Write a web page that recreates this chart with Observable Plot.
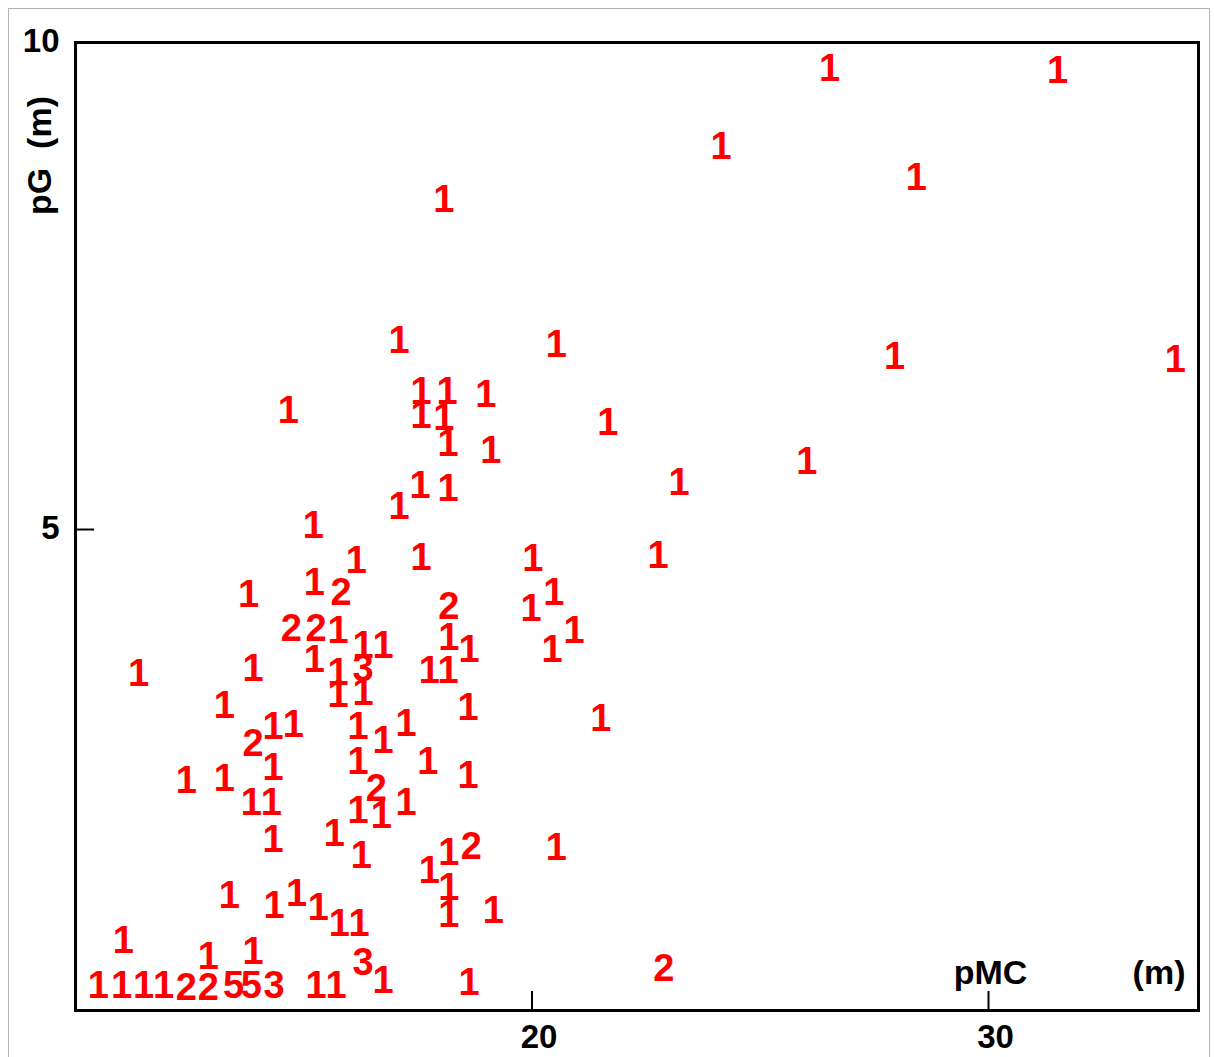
<!DOCTYPE html>
<html>
<head>
<meta charset="utf-8">
<script src="https://cdn.jsdelivr.net/npm/d3@7"></script>
<script src="https://cdn.jsdelivr.net/npm/@observablehq/plot@0.6"></script>
<style>
  html, body { margin: 0; padding: 0; background: #fff; }
  #wrap { position: relative; width: 1214px; height: 1057px; overflow: hidden; }
  #border { position: absolute; left: 8px; top: 8px; width: 1202px; height: 1100px; border: 1px solid #b4b4b4; box-sizing: border-box; }
  #chart { position: absolute; left: 0; top: 0; }
</style>
</head>
<body>
<div id="wrap"><div id="border"></div><div id="chart"></div></div>
<script>
// pMC (m) — x values
const pmc = [
  26.52, 31.51, 24.14, 28.42, 18.07, 17.09, 20.53, 27.94, 34.09,
  17.57, 18.14, 18.99, 17.57, 18.07, 18.16, 19.10, 21.66, 23.22, 26.02, 14.66,
  17.55, 18.16, 17.09, 15.21, 16.15, 17.57, 20.02, 22.76, 15.23, 15.82,
  13.79, 18.18, 20.48, 19.98, 14.73, 15.27, 15.75, 16.30, 16.74, 18.18,
  18.62, 20.92, 20.44, 11.38, 13.89, 15.23, 15.75, 16.30, 17.75, 18.16,
  15.75, 16.30, 13.26, 18.60, 21.51, 13.89, 14.33, 14.77, 16.19, 16.74,
  17.24, 12.43, 13.26, 14.33, 16.19, 17.72, 18.60, 13.85, 14.29, 16.59,
  16.19, 16.70, 17.24, 14.33, 15.67, 16.26, 17.75, 18.18, 18.67, 20.53,
  13.37, 14.35, 14.84, 15.32, 15.78, 16.21, 18.18, 18.18, 19.15, 11.05,
  12.91, 13.89, 16.30, 22.89,
  10.50, 11.01, 11.49, 11.93, 12.43, 12.91, 13.46, 13.85, 14.35, 15.27, 15.71, 16.74, 18.62
];
// pG (m) — y values
const pg = [
  9.73, 9.71, 8.93, 8.61, 8.38, 6.94, 6.90, 6.77, 6.74,
  6.41, 6.41, 6.38, 6.17, 6.15, 5.88, 5.81, 6.10, 5.48, 5.69, 6.22,
  5.45, 5.42, 5.23, 5.04, 4.68, 4.71, 4.70, 4.73, 4.45, 4.35,
  4.33, 4.21, 4.35, 4.19, 3.98, 3.98, 3.96, 3.81, 3.81, 3.89,
  3.76, 3.96, 3.76, 3.52, 3.57, 3.66, 3.53, 3.57, 3.55, 3.55,
  3.30, 3.32, 3.19, 3.17, 3.06, 2.80, 2.97, 2.99, 2.97, 2.83,
  3.01, 2.42, 2.44, 2.55, 2.61, 2.61, 2.47, 2.19, 2.19, 2.34,
  2.11, 2.06, 2.19, 1.81, 1.88, 1.65, 1.50, 1.68, 1.74, 1.73,
  1.24, 1.14, 1.26, 1.12, 0.95, 0.95, 1.32, 1.04, 1.09, 0.78,
  0.61, 0.66, 0.55, 0.49,
  0.32, 0.32, 0.32, 0.32, 0.29, 0.29, 0.32, 0.32, 0.32, 0.32, 0.32, 0.37, 0.35
];
// number of observations at each position (plotted as the label)
const counts = [
  1, 1, 1, 1, 1, 1, 1, 1, 1,
  1, 1, 1, 1, 1, 1, 1, 1, 1, 1, 1,
  1, 1, 1, 1, 1, 1, 1, 1, 1, 2,
  1, 2, 1, 1, 2, 2, 1, 1, 1, 1,
  1, 1, 1, 1, 1, 1, 1, 3, 1, 1,
  1, 1, 1, 1, 1, 2, 1, 1, 1, 1,
  1, 1, 1, 1, 1, 1, 1, 1, 1, 2,
  1, 1, 1, 1, 1, 1, 1, 1, 2, 1,
  1, 1, 1, 1, 1, 1, 1, 1, 1, 1,
  1, 1, 3, 2,
  1, 1, 1, 1, 2, 2, 5, 5, 3, 1, 1, 1, 1
];
const xTicks = [20, 30];
const yTicks = [5, 10];
const xDomain = [10, 34.6];
const yDomain = [0.062, 10];
const xLabel = "pMC";
const xUnit = "(m)";
const yLabel = "pG\u00a0\u00a0(m)";

const data = pmc.map((x, i) => ({x, y: pg[i], n: counts[i]}));

const W = 1214, H = 1057;
const mL = 75, mR = 16, mT = 42, mB = 47;
const pxPerX = (W - mL - mR) / (xDomain[1] - xDomain[0]);
const pxPerY = (H - mT - mB) / (yDomain[1] - yDomain[0]);
const tickLen = 19;
const font = "'Liberation Sans', Arial, sans-serif";

const chart = Plot.plot({
  width: W, height: H,
  marginLeft: mL, marginRight: mR, marginTop: mT, marginBottom: mB,
  style: {fontFamily: font, background: "transparent"},
  x: {domain: xDomain, axis: null},
  y: {domain: yDomain, axis: null},
  marks: [
    // inward ticks
    Plot.ruleX(xTicks, {x: d => d, y1: yDomain[0], y2: yDomain[0] + tickLen / pxPerY, stroke: "black", strokeWidth: 2}),
    Plot.ruleY(yTicks.filter(t => t < yDomain[1]), {y: d => d, x1: xDomain[0], x2: xDomain[0] + tickLen / pxPerX, stroke: "black", strokeWidth: 2}),
    // tick labels
    Plot.text(xTicks, {x: d => d, y: yDomain[0], text: d => String(d), dx: 7, dy: 27, fontSize: 33, fontWeight: "bold", fill: "black"}),
    Plot.text(yTicks, {x: xDomain[0], y: d => d, text: d => String(d), textAnchor: "end", dx: -16, dy: -1, fontSize: 33, fontWeight: "bold", fill: "black"}),
    // axis titles
    Plot.text([xLabel], {x: xTicks[1], y: yDomain[0], text: d => d, dx: 2, dy: -37, fontSize: 34, fontWeight: "bold", fill: "black"}),
    Plot.text([xUnit], {frameAnchor: "bottom-right", text: d => d, textAnchor: "end", lineAnchor: "middle", dx: -13, dy: -37, fontSize: 34, fontWeight: "bold", fill: "black"}),
    Plot.text([yLabel], {frameAnchor: "top-left", text: d => d, rotate: -90, textAnchor: "middle", lineAnchor: "middle", dx: -35, dy: 113, fontSize: 34, fontWeight: "bold", fill: "black"}),
    // data labels
    Plot.text(data, {x: "x", y: "y", text: d => String(d.n), fill: "#ff0000", fontSize: 38, fontWeight: "bold"}),
    Plot.frame({stroke: "black", strokeWidth: 3})
  ]
});
document.getElementById("chart").appendChild(chart);
</script>
</body>
</html>
